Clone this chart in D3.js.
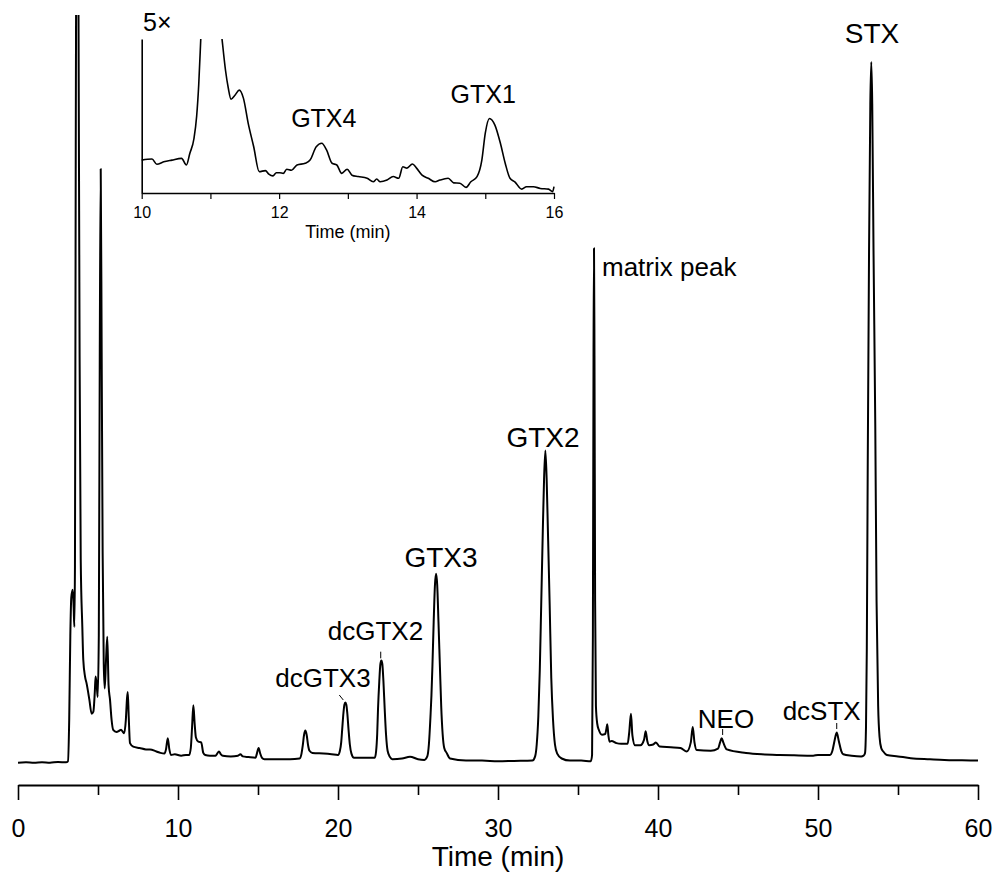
<!DOCTYPE html>
<html><head><meta charset="utf-8">
<script src="https://cdn.jsdelivr.net/npm/d3@7"></script>
<style>
body{margin:0;background:#fff}
svg{display:block}
text{font-family:"Liberation Sans",Arial,sans-serif;fill:#000}
</style>
</head><body><svg id="c" width="994" height="876"></svg>
<script>
// ---- main chromatogram (time in min, signal in arbitrary units) ----
const mainTime = [0.00,0.50,1.00,1.50,2.00,2.50,3.00,3.12,3.20,3.27,3.33,3.42,3.48,3.52,3.56,3.61,3.70,3.78,3.85,3.92,
4.02,4.08,4.19,4.29,4.46,4.60,4.71,4.80,4.85,4.92,4.98,5.05,5.11,5.17,5.23,5.29,5.36,5.42,5.50,5.58,5.66,5.75,5.85,5.95,
6.15,6.35,6.44,6.55,6.63,6.74,6.81,6.86,6.92,7.00,7.20,7.60,8.00,8.25,8.65,8.90,9.15,9.25,9.36,9.46,9.56,9.80,10.20,10.50,
10.70,10.80,10.88,10.96,11.04,11.12,11.27,11.45,11.58,11.70,12.00,12.35,12.45,12.56,12.68,12.80,13.30,13.75,13.90,14.05,
14.40,14.85,14.93,15.04,15.14,15.25,15.40,16.00,17.00,17.60,17.72,17.80,17.88,17.96,18.04,18.13,18.22,18.40,19.10,19.60,
20.00,20.12,20.20,20.26,20.34,20.40,20.46,20.52,20.58,20.66,20.74,20.84,21.00,21.60,22.30,22.38,22.45,22.50,22.58,22.65,
22.71,22.77,22.84,22.92,23.00,23.10,23.25,23.40,24.00,24.50,25.00,25.40,25.58,25.68,25.78,25.84,25.90,25.98,26.06,26.13,
26.20,26.28,26.37,26.45,26.54,26.64,26.79,27.00,28.00,29.00,30.00,31.00,32.15,32.32,32.42,32.52,32.61,32.70,32.80,32.88,
32.96,33.04,33.12,33.23,33.33,33.44,33.56,33.70,33.98,34.50,35.20,35.80,35.88,35.93,35.97,36.00,36.03,36.07,36.12,36.20,
36.30,36.50,36.70,36.78,36.83,36.90,36.97,37.10,37.40,37.70,38.10,38.20,38.31,38.40,38.56,38.90,39.13,39.23,39.33,39.45,
39.70,39.87,40.10,40.80,41.40,41.80,42.05,42.17,42.28,42.42,43.30,43.75,43.88,43.98,44.08,44.30,45.50,46.50,47.60,48.50,
49.70,50.00,50.75,50.90,51.03,51.17,51.30,51.45,51.58,52.10,52.70,52.85,52.94,53.00,53.05,53.11,53.19,53.27,53.33,53.39,
53.47,53.58,53.66,53.76,53.85,53.95,54.08,54.30,55.00,55.80,57.00,57.90,59.00,60.00];
const mainSignal = [1.9,1.95,1.9,1.95,1.9,2.0,1.95,2.1,8,20,25.5,26.6,24,21.3,30,90,150,110,60,31,
21.3,16.6,14.2,13.2,10.9,8.9,9.2,12,14.2,13,11.3,20,60,86.7,60,32,16,12.5,16.5,19.9,13,10.9,8,6.6,
6.3,6.5,6.6,6.3,6.1,8,11,12.0,8.5,4.7,4.2,4.0,3.8,3.8,3.5,3.3,3.2,3.8,5.4,3.8,3.0,3.1,2.9,3.0,
3.0,4.0,7.0,10.1,7.5,5.5,4.9,4.8,3.3,3.0,2.9,2.9,3.2,3.5,3.1,2.9,2.8,2.9,3.1,2.8,
2.7,2.6,3.2,4.0,3.2,2.6,2.4,2.4,2.4,2.5,3.2,4.4,5.9,6.5,5.9,4.4,3.6,3.3,3.2,3.1,
3.0,3.6,4.8,6.6,9.0,10.2,10.5,10.2,9.0,6.6,4.5,3.2,2.6,2.6,2.6,3.5,6.0,9.5,13.5,16.0,
16.5,16.0,13.5,9.5,6.0,3.6,2.7,2.4,2.5,2.75,2.4,2.3,2.8,4.5,8.5,11.5,15.6,22.0,27.3,28.9,
27.3,22.0,15.6,10.0,6.0,4.0,3.3,2.5,2.2,2.2,2.1,2.15,2.2,2.8,4.5,8.5,15.0,24.4,35.0,42.5,
46.5,42.5,35.0,24.4,14.0,8.0,4.5,3.2,2.5,2.2,2.2,2.1,3.0,20,60,75.4,60,25,10,7.5,
6.6,5.9,6.0,6.8,7.4,5.8,4.9,5.0,4.7,4.6,4.6,6.2,8.9,5.8,4.4,4.4,5.2,6.4,5.0,4.4,
4.5,4.8,4.2,4.1,4.0,3.5,4.8,7.0,4.8,3.7,3.6,3.9,4.8,5.4,4.8,3.8,3.3,3.1,3.0,2.95,
2.9,3.0,3.0,3.6,5.0,6.2,5.0,3.6,3.1,2.9,2.8,2.9,3.3,7,18,45,75,96,102,96,
75,50,25,10,5.5,4.0,3.5,3.0,2.8,2.55,2.4,2.3,2.25,2.2];

// ---- inset (10-16 min, 5x vertical) ----
const insetTime = [10.00,10.15,10.22,10.32,10.44,10.58,10.65,10.70,10.76,10.80,10.83,10.86,10.92,11.00,11.08,11.14,11.18,11.22,
11.26,11.30,11.36,11.42,11.48,11.55,11.63,11.71,11.80,11.85,11.91,11.96,12.01,12.06,12.11,12.18,12.26,12.38,12.45,12.54,
12.62,12.69,12.77,12.84,12.91,12.99,13.06,13.15,13.28,13.37,13.42,13.47,13.57,13.66,13.74,13.80,13.86,13.94,14.00,14.08,
14.17,14.27,14.34,14.46,14.54,14.63,14.72,14.79,14.88,14.95,15.00,15.06,15.14,15.22,15.29,15.36,15.43,15.53,15.60,15.70,
15.80,15.92,15.98,16.00];
const insetSignal = [3.24,3.27,3.12,3.19,3.24,3.29,3.10,3.43,3.85,4.5,5.4,6.72,9.5,11,9.5,7.3,6.5,5.8,
5.3,4.98,5.10,5.24,5.01,4.29,3.62,2.91,2.94,2.84,2.79,2.88,2.88,2.86,2.98,2.95,3.10,3.15,3.24,3.62,
3.72,3.53,3.15,3.10,2.86,2.98,2.81,2.77,2.72,2.62,2.70,2.62,2.67,2.77,2.72,3.05,3.01,3.13,3.01,2.81,
2.72,2.62,2.67,2.72,2.59,2.58,2.46,2.62,2.77,3.24,4.01,4.43,4.24,3.72,3.15,2.72,2.62,2.41,2.48,2.48,
2.43,2.41,2.34,2.48];

// ---- ticks ----
const mainMajorTicks = [0,10,20,30,40,50,60];
const mainMinorTicks = [5,15,25,35,45,55];
const insetTicks = [10,11,12,13,14,15,16];
const insetLabelledTicks = [10,12,14,16];

// ---- peak annotations (data coordinates: min, signal) ----
const bigNames = ["STX","GTX2","GTX3"];
const bigT = [53.375,32.81,26.44];
const bigV = [104.7,47.0,29.86];
const smallNames = ["dcGTX2","dcGTX3","NEO","dcSTX"];
const smallT = [22.34,19.06,44.25,50.23];
const smallV = [19.43,12.67,6.9,8.0];
const matrixName = "matrix peak";
const matrixT = 36.5, matrixV = 71.43;
const leaderT1 = [22.67,20.08,44.04,51.17];
const leaderV1 = [17.76,11.57,6.71,7.57];
const leaderT2 = [22.67,20.33,44.04,51.17];
const leaderV2 = [16.81,10.86,5.86,6.71];
const insetNames = ["GTX4","GTX1"];
const insetNameT = [12.65,14.97];
const insetNameV = [4.18,4.86];

const svg = d3.select("#c");
const x = d3.scaleLinear().domain([0,60]).range([18,978]);
const y = d3.scaleLinear().domain([0,110]).range([776,6]);
const axisY = 785;

svg.append("defs").append("clipPath").attr("id","mainClip")
  .append("rect").attr("x",0).attr("y",15).attr("width",994).attr("height",775);

const line = d3.line().x(d=>x(d[0])).y(d=>y(d[1])).curve(d3.curveMonotoneX);
svg.append("path").datum(mainTime.map((t,i)=>[t,mainSignal[i]]))
  .attr("clip-path","url(#mainClip)")
  .attr("d",line).attr("fill","none").attr("stroke","#000").attr("stroke-width",2).attr("stroke-linejoin","round");

// main axis
const ax = svg.append("g").attr("transform",`translate(0,${axisY})`)
  .call(d3.axisBottom(x).tickValues(mainMajorTicks).tickSize(15).tickSizeOuter(0).tickPadding(19));
ax.select(".domain").attr("stroke-width",2.2);
ax.selectAll(".tick line").attr("stroke-width",1.6);
ax.selectAll(".tick text").style("font-size","25px").attr("font-family","Liberation Sans, Arial, sans-serif");
const axm = svg.append("g").attr("transform",`translate(0,${axisY})`)
  .call(d3.axisBottom(x).tickValues(mainMinorTicks).tickSize(10).tickFormat(""));
axm.select(".domain").remove();
axm.selectAll(".tick line").attr("stroke-width",1.6);
svg.append("text").attr("x",(x(0)+x(60))/2).attr("y",866).attr("text-anchor","middle")
  .style("font-size","28px").text("Time (min)");

// labels
svg.selectAll("text.big").data(bigNames).enter().append("text").attr("class","big")
  .attr("x",(d,i)=>x(bigT[i])).attr("y",(d,i)=>y(bigV[i])).attr("text-anchor","middle")
  .style("font-size","28px").text(d=>d);
svg.selectAll("text.small").data(smallNames).enter().append("text").attr("class","small")
  .attr("x",(d,i)=>x(smallT[i])).attr("y",(d,i)=>y(smallV[i])).attr("text-anchor","middle")
  .style("font-size","26px").text(d=>d);
svg.append("text").attr("x",x(matrixT)).attr("y",y(matrixV)).style("font-size","26px").text(matrixName);
svg.selectAll("line.lead").data(smallNames).enter().append("line").attr("class","lead")
  .attr("x1",(d,i)=>x(leaderT1[i])).attr("y1",(d,i)=>y(leaderV1[i]))
  .attr("x2",(d,i)=>x(leaderT2[i])).attr("y2",(d,i)=>y(leaderV2[i]))
  .attr("stroke","#000").attr("stroke-width",1);

// ---- inset ----
const xi = d3.scaleLinear().domain([10,16]).range([141.7,554]);
const yi = d3.scaleLinear().domain([2.3,6.7]).range([193,39]);
svg.select("defs").append("clipPath").attr("id","insetClip")
  .append("rect").attr("x",141).attr("y",39).attr("width",414).attr("height",156);
const lineI = d3.line().x(d=>xi(d[0])).y(d=>yi(d[1])).curve(d3.curveMonotoneX);
svg.append("path").datum(insetTime.map((t,i)=>[t,insetSignal[i]]))
  .attr("clip-path","url(#insetClip)")
  .attr("d",lineI).attr("fill","none").attr("stroke","#000").attr("stroke-width",1.6).attr("stroke-linejoin","round");
const ix = svg.append("g").attr("transform","translate(0,193)")
  .call(d3.axisBottom(xi).tickValues(insetTicks).tickSize(6).tickSizeOuter(0).tickPadding(8)
    .tickFormat(d=>insetLabelledTicks.includes(d)?d:""));
ix.select(".domain").attr("stroke-width",1.6);
ix.selectAll(".tick line").attr("stroke-width",1.2);
ix.selectAll(".tick text").style("font-size","16px").attr("font-family","Liberation Sans, Arial, sans-serif");
const iy = svg.append("g").attr("transform","translate(141.7,0)")
  .call(d3.axisLeft(yi).tickValues([]).tickSizeOuter(0));
iy.select(".domain").attr("stroke-width",1.6);
svg.append("text").attr("x",xi(13)).attr("y",238).attr("text-anchor","middle")
  .style("font-size","18px").text("Time (min)");
svg.append("text").attr("x",143).attr("y",31).style("font-size","25px").text("5×");
svg.selectAll("text.ins").data(insetNames).enter().append("text").attr("class","ins")
  .attr("x",(d,i)=>xi(insetNameT[i])).attr("y",(d,i)=>yi(insetNameV[i])).attr("text-anchor","middle")
  .style("font-size","25px").text(d=>d);
</script>
</body></html>
